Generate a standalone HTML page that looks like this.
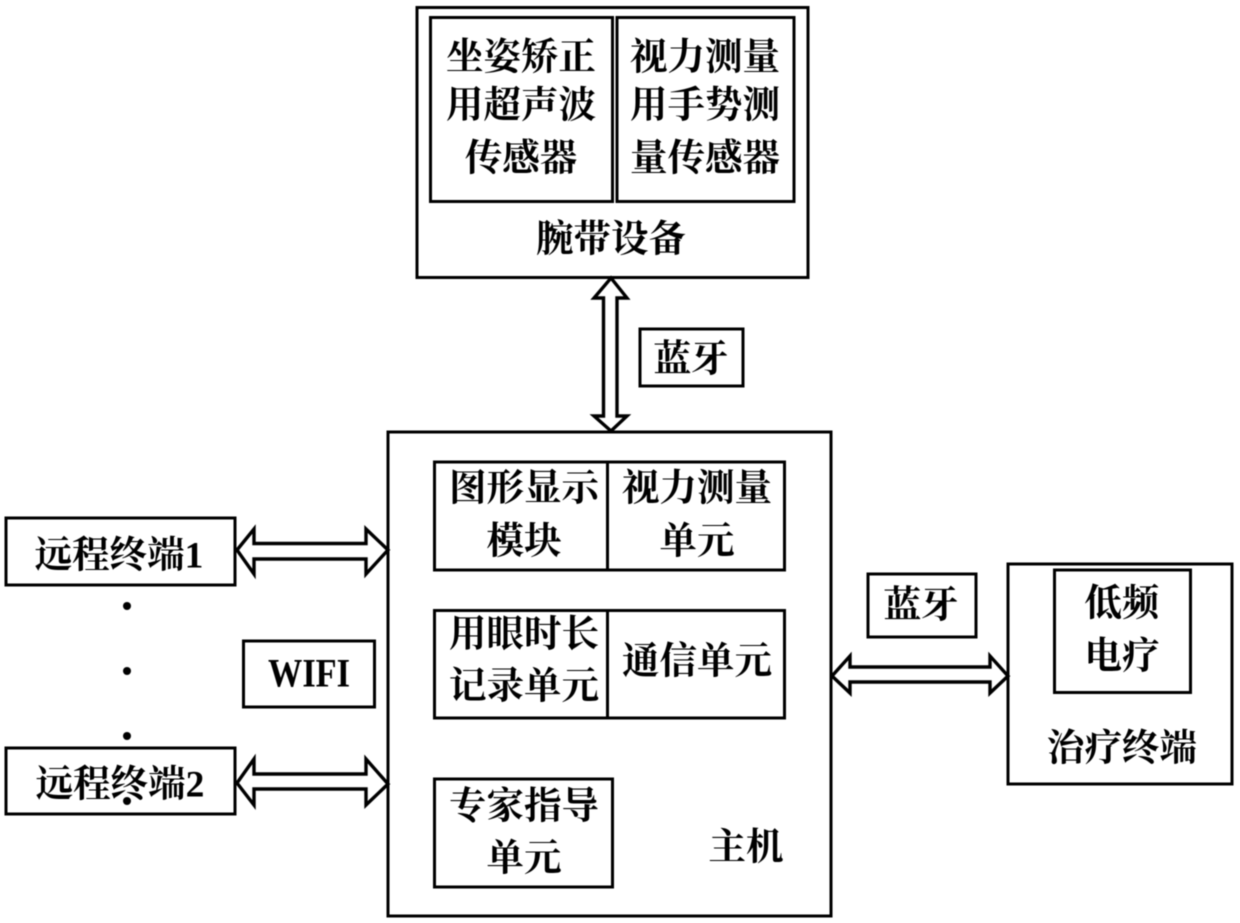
<!DOCTYPE html>
<html lang="zh">
<head>
<meta charset="utf-8">
<title>系统框图</title>
<style>
html,body{margin:0;padding:0;background:#fff;width:1240px;height:923px;overflow:hidden}
svg{display:block;filter:blur(.45px)}
rect,path{fill:none;stroke:#000;stroke-width:3;stroke-linejoin:miter}
path.a{stroke-width:3.4}
text{font-family:"Liberation Serif","Noto Serif CJK SC",serif;font-size:37.5px;font-weight:700;fill:#000;text-anchor:middle;dominant-baseline:central}
</style>
</head>
<body>
<svg width="1240" height="923" viewBox="0 0 1240 923" xmlns="http://www.w3.org/2000/svg">
<!-- wristband -->
<rect x="417" y="7.500" width="391" height="270"/>
<rect x="430.500" y="17.500" width="182" height="184"/>
<rect x="617" y="17.500" width="177" height="184"/>
<text x="521" y="58">坐姿矫正</text>
<text x="521" y="106">用超声波</text>
<text x="521" y="159">传感器</text>
<text x="705" y="58">视力测量</text>
<text x="705" y="106">用手势测</text>
<text x="705" y="159">量传感器</text>
<text x="611" y="240">腕带设备</text>

<!-- vertical arrow -->
<path class="a" d="M611 278 L627 298 L617 298 L617 416 L627 416 L611 431 L594 416 L603.500 416 L603.500 298 L594 298 Z"/>
<rect x="640" y="329" width="103" height="57"/>
<text x="691" y="360">蓝牙</text>

<!-- host -->
<rect x="388" y="432" width="443" height="484"/>
<rect x="434.500" y="462" width="350" height="108"/>
<path d="M607.500 462 V570"/>
<rect x="434.500" y="610.500" width="350" height="107.500"/>
<path d="M607.500 610 V718"/>
<rect x="434.500" y="779" width="178" height="108"/>
<text x="524" y="489">图形显示</text>
<text x="524" y="542">模块</text>
<text x="697" y="489">视力测量</text>
<text x="697" y="542">单元</text>
<text x="524" y="635">用眼时长</text>
<text x="524" y="687">记录单元</text>
<text x="697" y="662">通信单元</text>
<text x="524" y="807">专家指导</text>
<text x="524" y="859">单元</text>
<text x="746" y="848">主机</text>

<!-- remote terminals -->
<rect x="6" y="518" width="229" height="67"/>
<rect x="6" y="748" width="229" height="66"/>
<text x="119" y="556">远程终端1</text>
<text x="120" y="785">远程终端2</text>
<circle cx="127" cy="606" r="4"/>
<circle cx="127" cy="671" r="4"/>
<circle cx="127" cy="736" r="4"/>
<circle cx="127" cy="801" r="4"/>
<rect x="243.500" y="641" width="131" height="66"/>
<text x="309" y="673" textLength="82" lengthAdjust="spacingAndGlyphs" style="font-size:40px">WIFI</text>

<!-- left arrows -->
<path class="a" d="M237 550 L254 529 L254 543.500 L366 543.500 L366 529 L388 550 L366 574 L366 559 L254 559 L254 574 Z"/>
<path class="a" d="M237 783 L254 759 L254 774 L366 774 L366 759 L388 784 L366 805 L366 789 L254 789 L254 805 Z"/>

<!-- right side -->
<rect x="868" y="574" width="108" height="63"/>
<text x="921" y="606">蓝牙</text>
<path class="a" d="M832 676 L850 656 L850 667 L990 667 L990 656 L1008 676 L990 693 L990 682 L850 682 L850 693 Z"/>
<rect x="1008" y="564" width="224" height="220"/>
<rect x="1054.500" y="570" width="136" height="122.500"/>
<text x="1122" y="604">低频</text>
<text x="1122" y="657">电疗</text>
<text x="1122" y="749">治疗终端</text>
</svg>
</body>
</html>
